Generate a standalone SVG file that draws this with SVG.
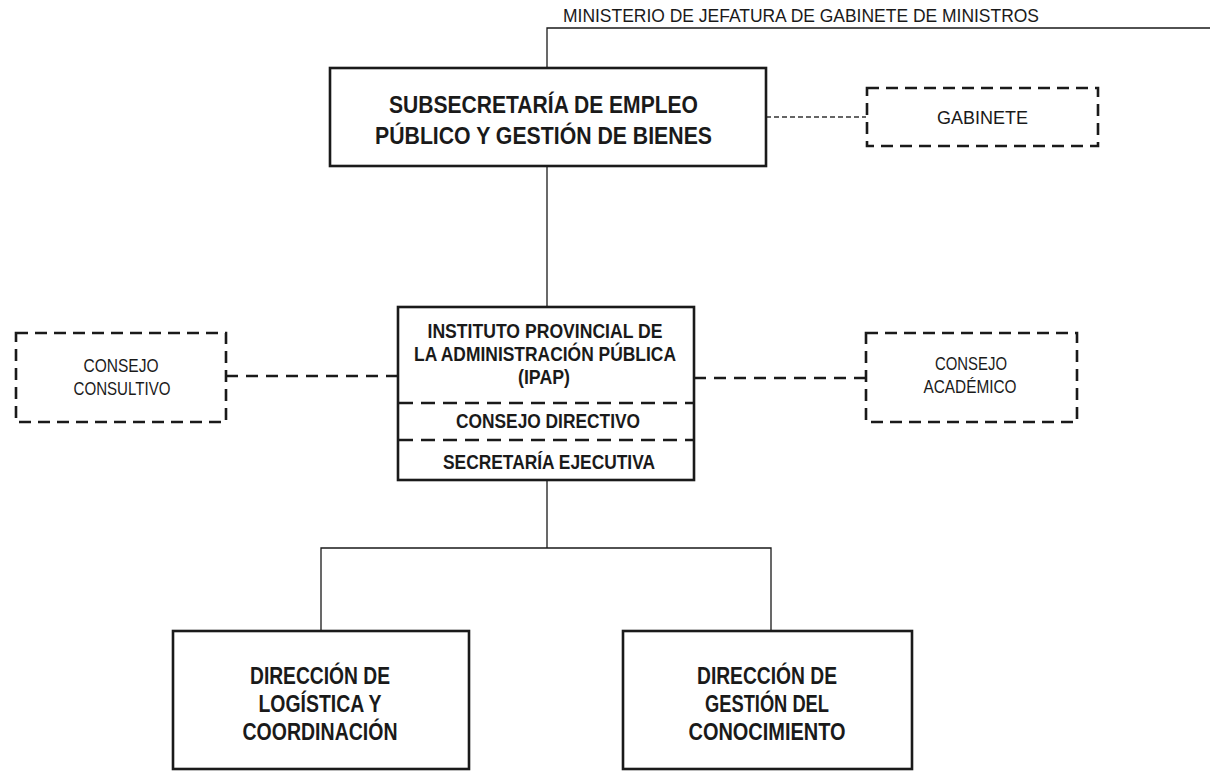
<svg xmlns="http://www.w3.org/2000/svg" width="1210" height="771" viewBox="0 0 1210 771">
<style>
  .box{fill:#fff;stroke:#1a1a1a;stroke-width:2.6}
  .dbox{fill:#fff;stroke:#1a1a1a;stroke-width:2.6;stroke-dasharray:12 7}
  .sep{stroke:#1a1a1a;stroke-width:2.4;stroke-dasharray:14 8;fill:none}
  .ln{stroke:#1a1a1a;stroke-width:1.3;fill:none}
  .dln{stroke:#1a1a1a;stroke-width:2.4;stroke-dasharray:12 8;fill:none}
  .fln{stroke:#333;stroke-width:1.3;stroke-dasharray:5 3;fill:none}
  text{font-family:"Liberation Sans",Arial,sans-serif;fill:#1a1a1a;text-anchor:middle}
  .b{font-weight:bold}
</style>
<rect width="1210" height="771" fill="#fff"/>
<g id="connectors">
  <path class="ln" d="M547 68 V28 H1210"/>
  <path class="ln" d="M547 166 V307"/>
  <path class="fln" d="M766 117 H866"/>
  <path class="dln" d="M226 376 H398"/>
  <path class="dln" d="M694 378 H866"/>
  <path class="ln" d="M547 480 V548 M321 631 V548 H771 V631"/>
</g>
<g id="ministerio">
  <text x="801" y="22" font-size="17.5" textLength="476" lengthAdjust="spacingAndGlyphs">MINISTERIO DE JEFATURA DE GABINETE DE MINISTROS</text>
</g>
<g id="subsecretaria">
  <rect class="box" x="330" y="68" width="436" height="98"/>
  <text class="b" x="543.5" y="113" font-size="23.5" textLength="309" lengthAdjust="spacingAndGlyphs">SUBSECRETARÍA DE EMPLEO</text>
  <text class="b" x="543.5" y="144" font-size="23.5" textLength="337" lengthAdjust="spacingAndGlyphs">PÚBLICO Y GESTIÓN DE BIENES</text>
</g>
<g id="gabinete">
  <rect class="dbox" x="867" y="88" width="231" height="58"/>
  <text x="982.5" y="124" font-size="18.5" textLength="91" lengthAdjust="spacingAndGlyphs">GABINETE</text>
</g>
<g id="ipap">
  <rect class="box" x="398" y="307" width="296" height="173"/>
  <path class="sep" d="M399 403 H693 M399 440 H693"/>
  <text class="b" x="545" y="338" font-size="20.5" textLength="235" lengthAdjust="spacingAndGlyphs">INSTITUTO PROVINCIAL DE</text>
  <text class="b" x="545" y="361" font-size="20.5" textLength="262" lengthAdjust="spacingAndGlyphs">LA ADMINISTRACIÓN PÚBLICA</text>
  <text class="b" x="544" y="384" font-size="20.5" textLength="52" lengthAdjust="spacingAndGlyphs">(IPAP)</text>
  <text class="b" x="548" y="428" font-size="20.5" textLength="184" lengthAdjust="spacingAndGlyphs">CONSEJO DIRECTIVO</text>
  <text class="b" x="549" y="469" font-size="20.5" textLength="212" lengthAdjust="spacingAndGlyphs">SECRETARÍA EJECUTIVA</text>
</g>
<g id="consejo-consultivo">
  <rect class="dbox" x="16" y="333" width="210" height="89"/>
  <text x="121" y="372" font-size="18.5" textLength="75" lengthAdjust="spacingAndGlyphs">CONSEJO</text>
  <text x="122" y="395" font-size="18.5" textLength="97" lengthAdjust="spacingAndGlyphs">CONSULTIVO</text>
</g>
<g id="consejo-academico">
  <rect class="dbox" x="866" y="333" width="211" height="89"/>
  <text x="971" y="370" font-size="18.5" textLength="72" lengthAdjust="spacingAndGlyphs">CONSEJO</text>
  <text x="970" y="393" font-size="18.5" textLength="93" lengthAdjust="spacingAndGlyphs">ACADÉMICO</text>
</g>
<g id="direccion-logistica">
  <rect class="box" x="173" y="631" width="296" height="138"/>
  <text class="b" x="320" y="684" font-size="24.5" textLength="140" lengthAdjust="spacingAndGlyphs">DIRECCIÓN DE</text>
  <text class="b" x="320" y="712" font-size="24.5" textLength="123" lengthAdjust="spacingAndGlyphs">LOGÍSTICA Y</text>
  <text class="b" x="320" y="740" font-size="24.5" textLength="155" lengthAdjust="spacingAndGlyphs">COORDINACIÓN</text>
</g>
<g id="direccion-conocimiento">
  <rect class="box" x="623" y="631" width="289" height="138"/>
  <text class="b" x="767" y="684" font-size="24.5" textLength="140" lengthAdjust="spacingAndGlyphs">DIRECCIÓN DE</text>
  <text class="b" x="767" y="712" font-size="24.5" textLength="124" lengthAdjust="spacingAndGlyphs">GESTIÓN DEL</text>
  <text class="b" x="767" y="740" font-size="24.5" textLength="157" lengthAdjust="spacingAndGlyphs">CONOCIMIENTO</text>
</g>
</svg>
